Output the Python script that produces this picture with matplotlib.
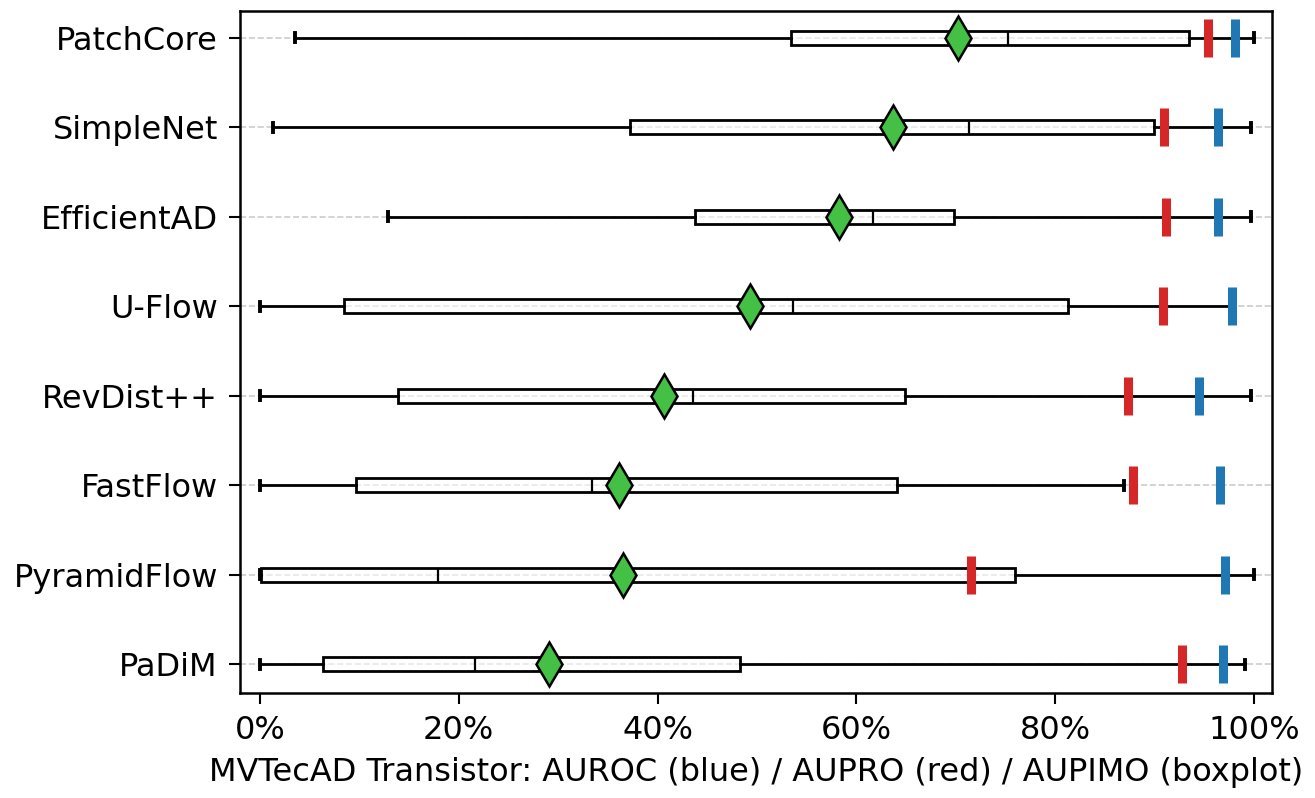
import matplotlib
matplotlib.use("Agg")
import matplotlib.pyplot as plt
from matplotlib.ticker import PercentFormatter

# models, top to bottom
models = ["PatchCore", "SimpleNet", "EfficientAD", "U-Flow",
          "RevDist++", "FastFlow", "PyramidFlow", "PaDiM"]

# AUPIMO boxplot stats
whislo = [0.035, 0.013, 0.129, 0.000, 0.000, 0.000, 0.000, 0.000]
q1 = [0.534, 0.372, 0.438, 0.085, 0.139, 0.097, 0.001, 0.063]
med = [0.752, 0.713, 0.617, 0.536, 0.436, 0.334, 0.179, 0.216]
mean = [0.702, 0.637, 0.582, 0.493, 0.406, 0.361, 0.365, 0.291]
q3 = [0.935, 0.899, 0.698, 0.813, 0.649, 0.641, 0.760, 0.483]
whishi = [1.000, 0.997, 0.997, 0.980, 0.997, 0.869, 1.000, 0.991]

auroc = [0.981, 0.964, 0.964, 0.978, 0.945, 0.966, 0.971, 0.969]
aupro = [0.954, 0.909, 0.911, 0.908, 0.873, 0.878, 0.715, 0.927]

FS = 23

fig = plt.figure(figsize=(13.15, 7.98), dpi=100)
ax = fig.add_axes([0.1825, 0.1316, 0.7848, 0.8546])

n = len(models)
pos = list(range(n))[::-1]

stats = [{'whislo': whislo[i], 'q1': q1[i], 'med': med[i], 'q3': q3[i],
          'whishi': whishi[i], 'mean': mean[i]} for i in range(n)]

ax.bxp(stats, positions=pos, vert=False, widths=0.157, showfliers=False,
       showmeans=False, patch_artist=True, capwidths=0.1,
       boxprops=dict(facecolor=(1, 1, 1, 0.55), edgecolor='black',
                     linewidth=2.0),
       medianprops=dict(color='black', linewidth=1.6),
       whiskerprops=dict(color='black', linewidth=2.0),
       capprops=dict(color='black', linewidth=2.8))

# mean diamonds
ax.plot(mean, pos, linestyle='none', marker='d', markersize=22,
        markerfacecolor='#44c044', markeredgecolor='black',
        markeredgewidth=1.8, zorder=5)

# AUPRO (red) and AUROC (blue)
ax.plot(aupro, pos, linestyle='none', marker='|', markersize=28,
        markeredgewidth=6.5, color='#d62728', zorder=4)
ax.plot(auroc, pos, linestyle='none', marker='|', markersize=28,
        markeredgewidth=6.5, color='#1f77b4', zorder=4)

ax.set_yticks(pos)
ax.set_yticklabels(models, fontsize=FS)
ax.set_xlim(-0.02, 1.018)
ax.set_ylim(-0.32, n - 1 + 0.30)
ax.set_xticks([0, 0.2, 0.4, 0.6, 0.8, 1.0])
ax.xaxis.set_major_formatter(PercentFormatter(xmax=1, decimals=0))
ax.tick_params(axis='x', labelsize=FS, length=8, width=1.5, pad=8)
ax.tick_params(axis='y', labelsize=FS, length=8, width=1.5, pad=8)
for s in ax.spines.values():
    s.set_linewidth(1.8)

ax.set_axisbelow(True)
ax.yaxis.grid(True, linestyle='--', color='#cccccc', linewidth=1.2)
ax.xaxis.grid(False)

ax.set_xlabel("MVTecAD Transistor: AUROC (blue) / AUPRO (red) / AUPIMO (boxplot)",
              fontsize=FS, labelpad=8)

fig.savefig("out.png", dpi=100)
